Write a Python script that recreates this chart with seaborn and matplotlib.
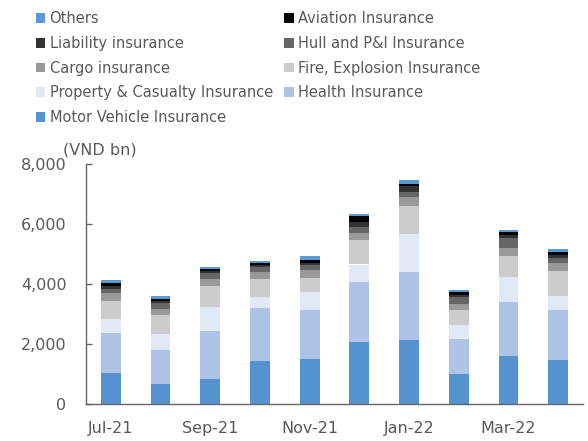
import matplotlib
matplotlib.use("Agg")
import matplotlib.pyplot as plt
import pandas as pd
import seaborn as sns
from matplotlib.patches import Patch
from matplotlib.ticker import FuncFormatter, FixedLocator

months = ["Jul-21", "Aug-21", "Sep-21", "Oct-21", "Nov-21",
          "Dec-21", "Jan-22", "Feb-22", "Mar-22", "Apr-22"]

# VND bn, bottom to top of each stack
motor = [1050, 680, 850, 1450, 1510, 2060, 2120, 990, 1590, 1460]
health = [1330, 1110, 1580, 1750, 1630, 2010, 2290, 1170, 1820, 1670]
property_casualty = [470, 550, 800, 380, 580, 580, 1260, 460, 810, 470]
fire = [600, 620, 710, 590, 490, 810, 930, 510, 720, 820]
cargo = [240, 210, 210, 230, 250, 250, 310, 190, 270, 290]
hull = [140, 200, 220, 160, 160, 180, 160, 240, 330, 170]
liability = [90, 80, 70, 80, 90, 180, 200, 80, 90, 90]
aviation = [115, 50, 70, 60, 90, 180, 50, 110, 90, 80]
others = [100, 90, 70, 80, 130, 80, 130, 60, 80, 120]

series = [
    ("Motor Vehicle Insurance", motor, "#5592D0"),
    ("Health Insurance", health, "#AEC3E6"),
    ("Property & Casualty Insurance", property_casualty, "#E1E8F6"),
    ("Fire, Explosion Insurance", fire, "#CCCCCC"),
    ("Cargo insurance", cargo, "#999999"),
    ("Hull and P&I Insurance", hull, "#666666"),
    ("Liability insurance", liability, "#333333"),
    ("Aviation Insurance", aviation, "#000000"),
    ("Others", others, "#5B9BD5"),
]

TEXT = "#595959"
AXIS = "#666666"

sns.set_style("white")
plt.rcParams["font.family"] = ["DejaVu Sans"]

fig = plt.figure(figsize=(5.88, 4.41), dpi=100)
ax = fig.add_axes([86 / 588, 37 / 441, 497 / 588, 240 / 441])

bottom = pd.Series([0.0] * len(months))
for name, values, color in series:
    df = pd.DataFrame({"Month": months, "Value": values})
    sns.barplot(data=df, x="Month", y="Value", order=months, color=color,
                width=0.4, bottom=bottom.values, saturation=1,
                edgecolor="none", linewidth=0, ax=ax)
    bottom = bottom + pd.Series(values)

ax.set_xlim(-0.5, len(months) - 0.5)
ax.set_ylim(0, 8000)
ax.set_yticks(range(0, 8001, 2000))
ax.yaxis.set_major_formatter(FuncFormatter(lambda v, p: f"{int(v):,}"))
ax.set_xlabel("")
ax.set_ylabel("")

ax.set_xticks(range(0, len(months), 2))
ax.set_xticklabels(months[::2])
ax.xaxis.set_minor_locator(FixedLocator([i + 1.5 for i in range(0, len(months), 2)]))
ax.tick_params(axis="x", which="major", length=0, pad=12.5, labelsize=11.5, labelcolor=TEXT)
ax.tick_params(axis="x", which="minor", direction="in", length=4.5, width=1, color=AXIS)
ax.tick_params(axis="y", direction="in", length=4.5, width=1, color=AXIS,
               pad=14, labelsize=11.5, labelcolor=TEXT, left=True)

for side in ["top", "right"]:
    ax.spines[side].set_visible(False)
for side in ["left", "bottom"]:
    ax.spines[side].set_color(AXIS)
    ax.spines[side].set_linewidth(1)

fig.text(63 / 588, 1 - 150 / 441, "(VND bn)", fontsize=11.5, color=TEXT, va="center")

handles = {name: Patch(facecolor=color, edgecolor="none") for name, _, color in series}
legend_order = ["Others", "Liability insurance", "Cargo insurance",
                "Property & Casualty Insurance", "Motor Vehicle Insurance",
                "Aviation Insurance", "Hull and P&I Insurance",
                "Fire, Explosion Insurance", "Health Insurance"]
fig.legend([handles[n] for n in legend_order], legend_order,
           loc="upper left", bbox_to_anchor=(35.7 / 588, 1 - 11 / 441), ncol=2,
           frameon=False, fontsize=10.5, labelcolor=TEXT,
           handlelength=0.65, handleheight=0.65, handletextpad=0.3,
           labelspacing=0.67, columnspacing=0.8, borderaxespad=0, borderpad=0)

fig.savefig("out.png", dpi=100)
